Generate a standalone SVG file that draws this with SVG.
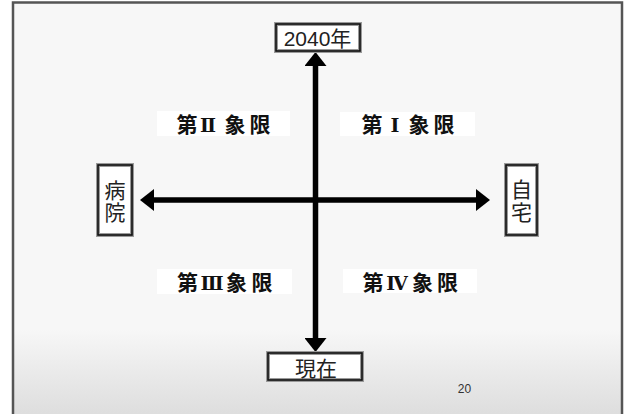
<svg xmlns="http://www.w3.org/2000/svg" width="625" height="414" viewBox="0 0 625 414">
  <style>
    .box-o { fill: #fff; stroke: #9a9a9a; stroke-width: 4; }
    .box-i { fill: none; stroke: #111; stroke-width: 1.6; }
    .node { font-family: "Liberation Sans", "Noto Sans CJK JP", sans-serif; font-size: 21px; fill: #222; text-anchor: middle; }
    .quad { font-family: "Noto Sans CJK JP", sans-serif; font-size: 21px; font-weight: bold; fill: #111; text-anchor: middle; }
    .rn { font-family: "DejaVu Serif", "Noto Sans CJK JP", serif; font-size: 19px; }
    .qbg { fill: #fff; }
    .axis { stroke: #000; stroke-width: 5.5; fill: none; marker-start: url(#ah); marker-end: url(#ah); }
  </style>
  <defs>
    <linearGradient id="bg" x1="0" y1="0" x2="0" y2="1">
      <stop offset="0" stop-color="#f7f7f7"/>
      <stop offset="0.76" stop-color="#f7f7f7"/>
      <stop offset="0.97" stop-color="#dcdcdc"/>
      <stop offset="1" stop-color="#dcdcdc"/>
    </linearGradient>
    <marker id="ah" viewBox="0 0 14 22" refX="0" refY="11" markerWidth="14" markerHeight="22" markerUnits="userSpaceOnUse" orient="auto-start-reverse">
      <path d="M0,0 L14,11 L0,22 z" fill="#000"/>
    </marker>
  </defs>
  <rect x="0" y="0" width="625" height="414" fill="#fff"/>
  <rect x="13" y="2.5" width="609" height="430" fill="url(#bg)" stroke="#555" stroke-width="2.5"/>

  <g id="connectors">
    <line class="axis" x1="315.5" y1="66" x2="315.5" y2="338"/>
    <line class="axis" x1="154" y1="200" x2="476" y2="200"/>
  </g>

  <g id="node-2040">
    <rect class="box-o" x="276" y="24" width="84" height="27"/>
    <rect class="box-i" x="276" y="24" width="84" height="27"/>
    <text class="node" x="317.5" y="46" font-size="22">2040年</text>
  </g>
  <g id="node-genzai">
    <rect class="box-o" x="268" y="353" width="94" height="27"/>
    <rect class="box-i" x="268" y="353" width="94" height="27"/>
    <text class="node" x="316" y="376" font-size="22">現在</text>
  </g>
  <g id="node-byoin">
    <rect class="box-o" x="98" y="165" width="34" height="70"/>
    <rect class="box-i" x="98" y="165" width="34" height="70"/>
    <text class="node" x="115" y="198">病</text>
    <text class="node" x="115" y="220">院</text>
  </g>
  <g id="node-jitaku">
    <rect class="box-o" x="506" y="165" width="31" height="70"/>
    <rect class="box-i" x="506" y="165" width="31" height="70"/>
    <text class="node" x="521.5" y="197">自</text>
    <text class="node" x="521.5" y="220">宅</text>
  </g>

  <g id="quad-2">
    <rect class="qbg" x="157" y="111" width="133" height="25"/>
    <text class="quad" y="132"><tspan x="187">第</tspan><tspan class="rn" x="208">Ⅱ</tspan><tspan x="235 260">象限</tspan></text>
  </g>
  <g id="quad-1">
    <rect class="qbg" x="340" y="112" width="135" height="24"/>
    <text class="quad" y="132"><tspan x="372">第</tspan><tspan class="rn" x="395">Ⅰ</tspan><tspan x="419 444">象限</tspan></text>
  </g>
  <g id="quad-3">
    <rect class="qbg" x="157" y="269" width="135" height="25"/>
    <text class="quad" y="290"><tspan x="187.5">第</tspan><tspan class="rn" x="212">Ⅲ</tspan><tspan x="236.5 262">象限</tspan></text>
  </g>
  <g id="quad-4">
    <rect class="qbg" x="343" y="269" width="134" height="24"/>
    <text class="quad" y="290"><tspan x="373">第</tspan><tspan class="rn" x="397">Ⅳ</tspan><tspan x="422.5 447.5">象限</tspan></text>
  </g>

  <text x="464.5" y="393" font-family="Liberation Sans, sans-serif" font-size="12" fill="#333" text-anchor="middle">20</text>
</svg>
